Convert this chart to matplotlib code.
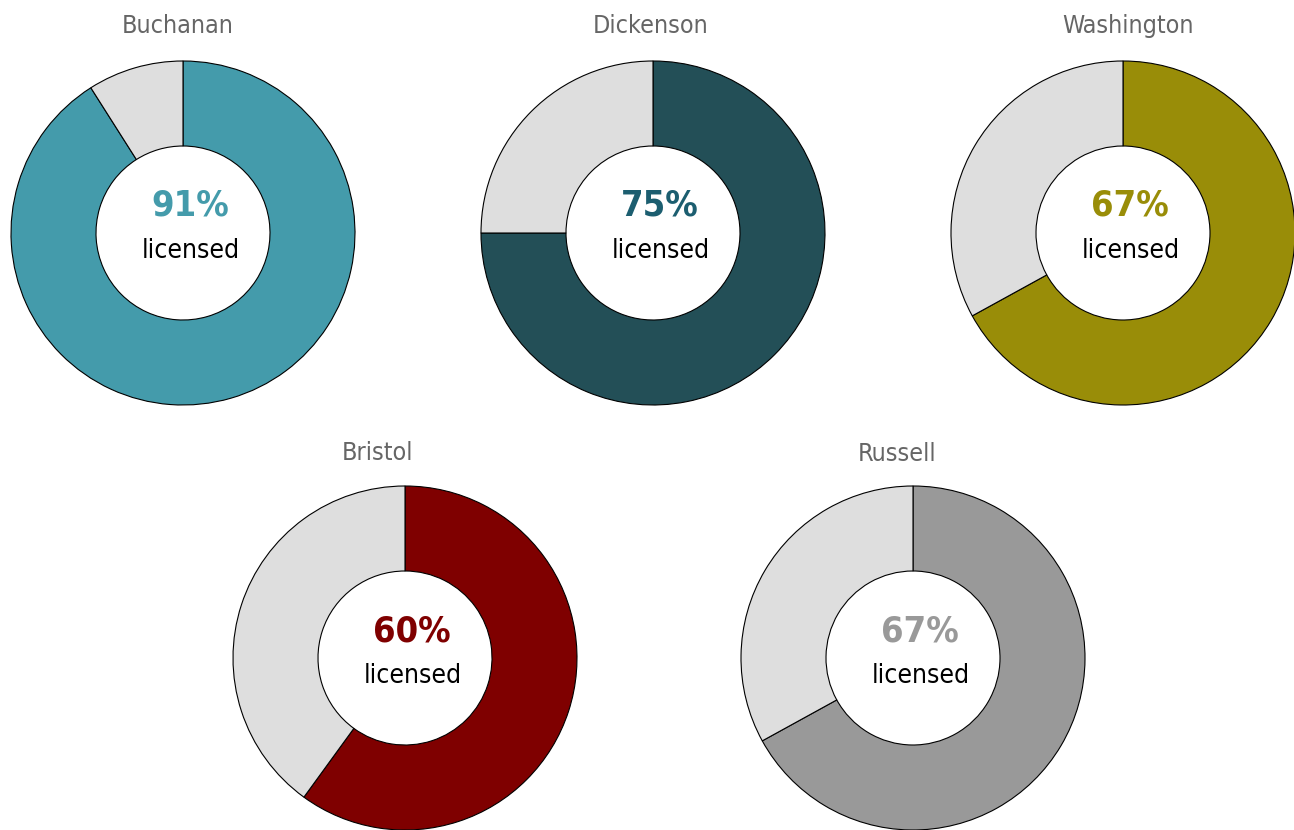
import matplotlib
matplotlib.use("Agg")
import matplotlib.pyplot as plt

# data
counties = ["Buchanan", "Dickenson", "Washington", "Bristol", "Russell"]
licensed = [91, 75, 67, 60, 67]

# styles
slice_colors = ["#449bab", "#234f57", "#998d08", "#7f0000", "#999999"]
text_colors = ["#449bab", "#1c5e70", "#998d08", "#7f0000", "#999999"]
rest_color = "#dedede"
# pixel positions (x, y from top) of each donut centre
centres = [(183, 233), (653, 233), (1123, 233), (405, 658), (913, 658)]
title_pos = [(178, 26), (651, 26), (1128, 26), (377, 453), (897, 454)]

W, H = 1294, 830
R_OUT, R_IN = 172, 87

# narrow look, close to the original condensed font
plt.rcParams["font.family"] = ["DejaVu Sans"]
plt.rcParams["font.stretch"] = "condensed"

fig = plt.figure(figsize=(W / 100, H / 100), dpi=100)
ax = fig.add_axes([0, 0, 1, 1])

for i, name in enumerate(counties):
    cx, cy = centres[i]
    ax.pie([licensed[i], 100 - licensed[i]], colors=[slice_colors[i], rest_color],
           startangle=90, counterclock=False, center=(cx, H - cy), radius=R_OUT,
           wedgeprops=dict(width=R_OUT - R_IN, edgecolor="black", linewidth=0.8))
    ax.text(cx + 7, H - cy + 27, f"{licensed[i]}%", ha="center", va="center",
            fontsize=26, fontweight="semibold", color=text_colors[i])
    ax.text(cx + 8, H - cy - 18, "licensed", ha="center", va="center",
            fontsize=19, color="black")
    tx, ty = title_pos[i]
    ax.text(tx, H - ty, name, ha="center", va="center", fontsize=18, color="#666666")

ax.set_xlim(0, W)
ax.set_ylim(0, H)
ax.set_aspect("auto")
ax.axis("off")

fig.savefig("out.png", dpi=100)
